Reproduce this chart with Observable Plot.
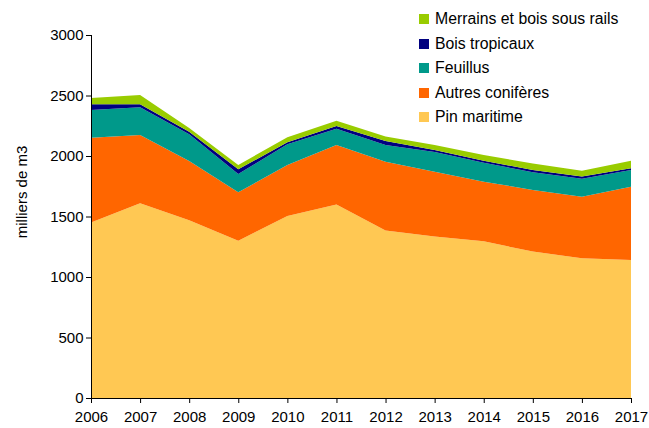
<!DOCTYPE html>
<html>
<head>
<meta charset="utf-8">
<script src="https://cdn.jsdelivr.net/npm/d3@7"></script>
<script src="https://cdn.jsdelivr.net/npm/@observablehq/plot@0.6"></script>
<style>
  html, body { margin: 0; padding: 0; background: #fff; }
  #wrap { position: relative; width: 649px; height: 428px; font-family: "Liberation Sans", Arial, sans-serif; }
  #legend { position: absolute; left: 419px; top: 7px; font-size: 15.8px; color: #000; }
  #legend .row { display: flex; align-items: center; height: 24.5px; }
  #legend .sw { width: 10px; height: 10px; margin-right: 6px; }
  #ylabel { position: absolute; left: 21px; top: 192px; transform: translate(-50%, -50%) rotate(-90deg); font-size: 15px; white-space: nowrap; }
</style>
</head>
<body>
<div id="wrap">
  <div id="chart"></div>
  <div id="ylabel">milliers de m3</div>
  <div id="legend"></div>
</div>
<script>
const years = [2006, 2007, 2008, 2009, 2010, 2011, 2012, 2013, 2014, 2015, 2016, 2017];
const pinMaritime = [1450, 1610, 1470, 1300, 1505, 1600, 1385, 1335, 1295, 1210, 1155, 1140];
const autresConiferes = [701, 563, 488, 400, 421, 491, 568, 535, 493, 509, 509, 606];
const feuillus = [229, 229, 222, 151, 171, 135, 138, 163, 157, 146, 147, 138];
const boisTropicaux = [47, 25, 20, 39, 16, 22, 33, 16, 16, 19, 19, 14];
const merrains = [53, 77, 31, 36, 41, 44, 37, 42, 47, 55, 49, 63];

const seriesNames = ["Pin maritime", "Autres conifères", "Feuillus", "Bois tropicaux", "Merrains et bois sous rails"];
const seriesValues = [pinMaritime, autresConiferes, feuillus, boisTropicaux, merrains];
const seriesColors = ["#FFC853", "#FF6600", "#00998A", "#000080", "#99CC00"];
const yTicks = [0, 500, 1000, 1500, 2000, 2500, 3000];

const data = [];
seriesNames.forEach((name, i) => {
  years.forEach((yr, j) => data.push({ year: yr, value: seriesValues[i][j], series: name }));
});

const chart = Plot.plot({
  width: 649,
  height: 428,
  marginLeft: 91,
  marginRight: 18,
  marginTop: 35,
  marginBottom: 30,
  style: { fontFamily: "'Liberation Sans', Arial, sans-serif", fontSize: "15px", color: "#000", background: "#fff" },
  x: { type: "linear", domain: [2006, 2017], label: null },
  y: { domain: [0, 3000], label: null },
  color: { domain: seriesNames, range: seriesColors },
  marks: [
    Plot.areaY(data, { x: "year", y: "value", z: "series", fill: "series", order: seriesNames }),
    Plot.ruleX([2006], { stroke: "#000", strokeWidth: 1 }),
    Plot.ruleY([0], { stroke: "#000", strokeWidth: 1 }),
    Plot.axisX({ ticks: years, tickFormat: d => String(d), tickSize: 5, tickPadding: 8, fontSize: 15, stroke: "#000", label: null }),
    Plot.axisY({ ticks: yTicks, tickFormat: d => String(d), tickSize: 5, tickPadding: 3, fontSize: 15, stroke: "#000", label: null })
  ]
});
document.getElementById("chart").appendChild(chart);

const legend = document.getElementById("legend");
seriesNames.slice().reverse().forEach((name) => {
  const i = seriesNames.indexOf(name);
  const row = document.createElement("div");
  row.className = "row";
  const sw = document.createElement("div");
  sw.className = "sw";
  sw.style.background = seriesColors[i];
  const t = document.createElement("span");
  t.textContent = name;
  row.appendChild(sw);
  row.appendChild(t);
  legend.appendChild(row);
});
</script>
</body>
</html>
